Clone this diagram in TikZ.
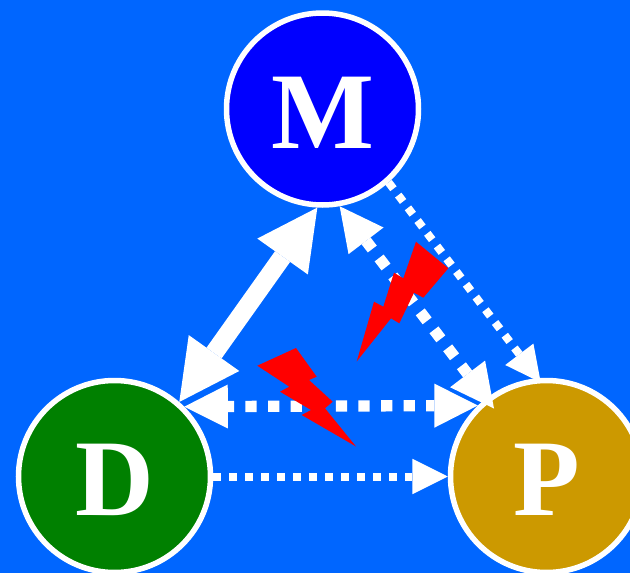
\documentclass[tikz,border=0pt]{standalone}
\usepackage{fontspec}
\setmainfont{Liberation Serif}
\usetikzlibrary{arrows.meta}
\definecolor{bgblue}{HTML}{0066FF}
\definecolor{mblue}{HTML}{0000FF}
\definecolor{dgreen}{HTML}{008000}
\definecolor{pgold}{HTML}{CC9900}
\newcommand{\capletter}[1]{\raisebox{-3.5pt}[\height][0pt]{#1}}
\tikzset{
  x=1pt,y=-1pt,
  agent/.style={circle,draw=white,line width=5.5pt,minimum size=192pt,inner sep=0pt,text=white,font=\fontsize{109}{109}\selectfont\bfseries},
  solidlink/.style={draw=white,line width=18.5pt,{Triangle[length=60pt,width=62pt,line width=0pt]}-{Triangle[length=60pt,width=62pt,line width=0pt]},white},
  widedots/.style={draw=white,line width=11.3pt,dash pattern=on 11.3pt off 11.3pt,{Triangle[length=43.5pt,width=44pt,line width=0pt]}-{Triangle[length=43.5pt,width=44pt,line width=0pt]},white},
  thindots/.style={draw=white,line width=8pt,dash pattern=on 8pt off 8pt,-{Triangle[length=35.3pt,width=35.4pt,line width=0pt]},white},
  bolt/.style={fill=red,draw=none},
}
\begin{document}
\begin{tikzpicture}
\useasboundingbox (0,0) rectangle (630,573);
\clip (0,0) rectangle (630,573);
\fill[bgblue] (0,0) rectangle (630,573);
\node[agent,fill=mblue] (M) at (322.5,109) {\capletter{M}};
\node[agent,fill=dgreen] (D) at (114.5,476.5) {\capletter{D}};
\node[agent,fill=pgold] (P) at (546.5,476.5) {\capletter{P}};
\coordinate (pin) at (494,408.5);
\coordinate (pout) at (540.7,382.4);
\draw[solidlink] (D.49) -- (M.-93);
\draw[widedots,dash phase=1pt] (M.-80.5) -- (pin);
\draw[widedots,dash phase=5pt] (D.45.6) -- (P.134.4);
\draw[thindots] (M.-48.5) -- (pout);
\draw[thindots] (D.0) -- (P.180);
\fill[bolt] (416,241.7)--(448.3,268.3)--(423.3,297.7)--(414,292.7)--(399.3,323.3)--(391,318.3)--(356.7,361.5)--(374,301.7)--(383.3,306.7)--(394,272.7)--(403.3,278.3)--cycle;
\fill[bolt] (296,348)--(316.7,376.7)--(309,380)--(332.7,401.7)--(325,408.3)--(356,446.5)--(301.7,415)--(311,410)--(280,391.7)--(289.3,386.7)--(257.3,365.7)--cycle;
\end{tikzpicture}
\end{document}
